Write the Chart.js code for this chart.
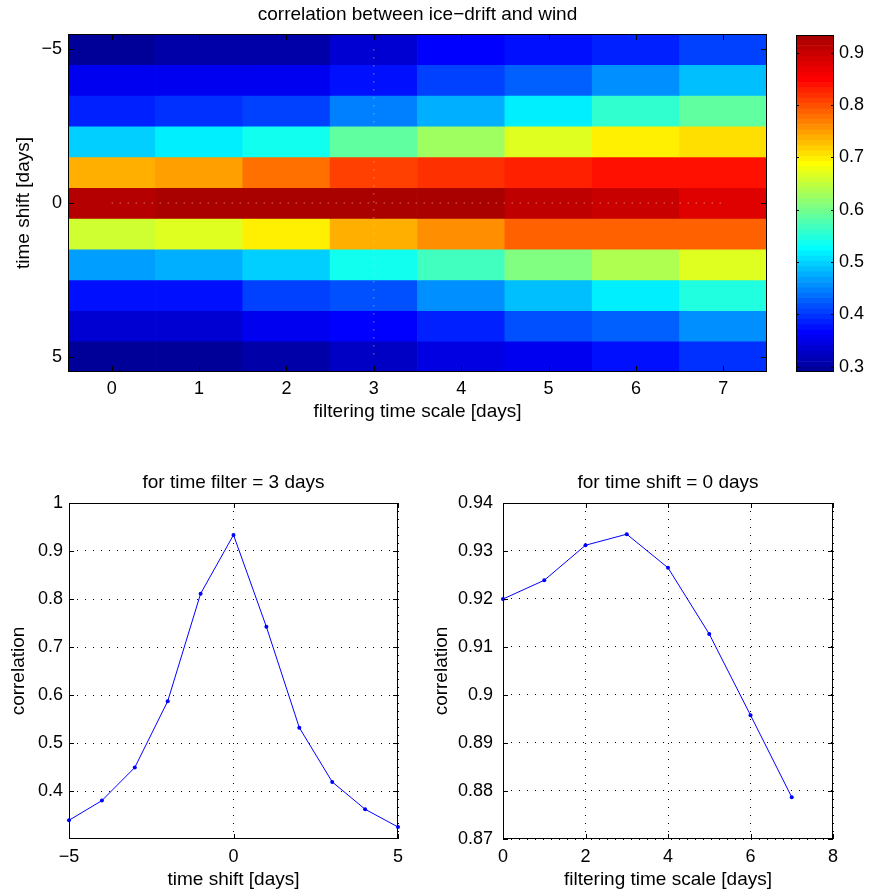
<!DOCTYPE html>
<html>
<head>
<meta charset="utf-8">
<title>correlation between ice-drift and wind</title>
<script src="https://cdn.jsdelivr.net/npm/chart.js@4.4.1/dist/chart.umd.min.js"></script>
<style>
  body { margin: 0; background: #fff; }
  #page { position: relative; width: 873px; height: 896px; overflow: hidden; }
  canvas { position: absolute; }
</style>
</head>
<body>
<div id="page">
  <canvas id="heatChart" width="780" height="430" style="left:0;top:0"></canvas>
  <canvas id="barChart" width="93" height="430" style="left:780px;top:0"></canvas>
  <canvas id="shiftChart" width="440" height="456" style="left:0;top:440px"></canvas>
  <canvas id="filterChart" width="453" height="456" style="left:420px;top:440px"></canvas>
</div>
<script>
// values
const filterDays = [0, 1, 2, 3, 4, 5, 6, 7]
const timeShift = [-5, -4, -3, -2, -1, 0, 1, 2, 3, 4, 5]

// one row per time shift, one value per filtering time scale
const corrByShift = [
  [0.296, 0.302, 0.310, 0.339, 0.365, 0.378, 0.390, 0.410],
  [0.352, 0.352, 0.358, 0.380, 0.405, 0.428, 0.452, 0.483],
  [0.390, 0.400, 0.410, 0.449, 0.480, 0.512, 0.553, 0.585],
  [0.500, 0.515, 0.541, 0.587, 0.625, 0.666, 0.693, 0.708],
  [0.733, 0.746, 0.773, 0.811, 0.822, 0.832, 0.834, 0.835],
  [0.9200, 0.9239, 0.9312, 0.9335, 0.9265, 0.9127, 0.8958, 0.8787],
  [0.655, 0.664, 0.694, 0.742, 0.759, 0.783, 0.785, 0.786],
  [0.462, 0.476, 0.500, 0.532, 0.568, 0.611, 0.638, 0.664],
  [0.378, 0.380, 0.402, 0.419, 0.455, 0.484, 0.515, 0.548],
  [0.340, 0.340, 0.352, 0.362, 0.385, 0.412, 0.428, 0.458],
  [0.290, 0.293, 0.302, 0.325, 0.342, 0.358, 0.380, 0.395]
]

const pickedFilter = 3
const pickedShift = 0

// tick labels
const heatYTicks = [-5, 0, 5]
const barTicks = [0.3, 0.4, 0.5, 0.6, 0.7, 0.8, 0.9]
const shiftXTicks = [-5, 0, 5]
const shiftYTicks = [0.4, 0.5, 0.6, 0.7, 0.8, 0.9, 1]
const filterXTicks = [0, 2, 4, 6, 8]
const filterYTicks = [0.87, 0.88, 0.89, 0.9, 0.91, 0.92, 0.93, 0.94]

Chart.defaults.font.family = '"Liberation Sans", Arial, sans-serif'
Chart.defaults.color = '#000'
Chart.defaults.animation = false

// jet-like 64 colour map, i = 0..63 (dark ends a bit lighter, as in the picture)
function jet(i) {
  const r = i < 24 ? 0 : i < 40 ? (i - 23) / 16 : i < 56 ? 1 : 1 - (i - 55) * 0.042
  const g = i < 8 ? 0 : i < 24 ? (i - 7) / 16 : i < 40 ? 1 : i < 55 ? (55 - i) / 16 : 0
  const b = i < 8 ? 0.6 + i * 0.4 / 7 : i < 24 ? 1 : i < 39 ? (39 - i) / 16 : 0
  return `rgb(${Math.round(r * 255)},${Math.round(g * 255)},${Math.round(b * 255)})`
}

const allValues = corrByShift.flat()
const cmin = Math.min(...allValues)
const cmax = Math.max(...allValues)
const colorIndex = v => Math.max(0, Math.min(63, Math.floor((v - cmin) / (cmax - cmin) * 64)))

const minus = v => (v < 0 ? '\u2212' + Math.abs(v) : String(v))
const fixTicks = list => scale => { scale.ticks = list.map(v => ({ value: v })) }

// box around the plot area with matlab style inward ticks
const boxTicks = {
  id: 'boxTicks',
  afterDatasetsDraw(chart, args, opts) {
    const { ctx, chartArea: a, scales } = chart
    const len = opts.len || 5
    ctx.save()
    ctx.strokeStyle = '#000'
    ctx.lineWidth = 1
    for (const id of ['x', 'y']) {
      const s = scales[id]
      if (!s || !s.options.display) continue
      s.ticks.forEach((t, i) => {
        const p = Math.round(s.getPixelForTick(i)) + 0.5
        ctx.beginPath()
        if (s.isHorizontal()) {
          ctx.moveTo(p, a.bottom); ctx.lineTo(p, a.bottom - len)
          ctx.moveTo(p, a.top); ctx.lineTo(p, a.top + len)
        } else {
          ctx.moveTo(a.left, p); ctx.lineTo(a.left + len, p)
          ctx.moveTo(a.right, p); ctx.lineTo(a.right - len, p)
        }
        ctx.stroke()
      })
    }
    ctx.strokeRect(Math.round(a.left) + 0.5, Math.round(a.top) + 0.5,
      Math.round(a.width) - 1, Math.round(a.height) - 1)
    ctx.restore()
  }
}

const titleFont = { size: 19, weight: 'normal' }
const tickFont = { size: 18 }

// HEATMAP
const heatBars = timeShift.map((s, r) => ({
  type: 'bar',
  data: filterDays.map(() => [s - 0.5, s + 0.5]),
  backgroundColor: corrByShift[r].map(v => jet(colorIndex(v))),
  borderWidth: 0,
  barPercentage: 1,
  categoryPercentage: 1,
  grouped: false,
  order: 1
}))

const guideStyle = {
  type: 'line',
  borderColor: 'rgba(240,220,140,0.8)',
  borderWidth: 1,
  borderDash: [1, 7],
  pointRadius: 0,
  order: 0
}

new Chart(document.getElementById('heatChart'), {
  type: 'bar',
  data: {
    labels: filterDays,
    datasets: [
      { ...guideStyle, data: [{ x: pickedFilter, y: timeShift[0] }, { x: pickedFilter, y: timeShift[timeShift.length - 1] }] },
      { ...guideStyle, data: [{ x: filterDays[0], y: pickedShift }, { x: filterDays[filterDays.length - 1], y: pickedShift }] },
      ...heatBars
    ]
  },
  options: {
    responsive: false,
    layout: { padding: { left: 0, right: 13, top: 0, bottom: 0 } },
    plugins: {
      legend: { display: false },
      tooltip: { enabled: false },
      title: { display: true, fullSize: false, text: 'correlation between ice\u2212drift and wind', font: titleFont, padding: { top: 3, bottom: 8.2 } },
      boxTicks: { len: 6 }
    },
    scales: {
      x: {
        type: 'category',
        offset: true,
        grid: { display: false, drawTicks: false },
        border: { display: false },
        ticks: { font: tickFont, padding: 6, autoSkip: false, maxRotation: 0 },
        title: { display: true, text: 'filtering time scale [days]', font: titleFont, padding: { top: 0, bottom: 6.6 } },
        afterFit: s => { s.height = 58 }
      },
      y: {
        type: 'linear',
        min: timeShift[0] - 0.5,
        max: timeShift[timeShift.length - 1] + 0.5,
        reverse: true,
        grid: { display: false, drawTicks: false },
        border: { display: false },
        afterBuildTicks: fixTicks(heatYTicks),
        ticks: { font: tickFont, padding: 6, callback: v => minus(v) },
        title: { display: true, text: 'time shift [days]', font: titleFont, padding: { top: 12, bottom: 0 } },
        afterFit: s => { s.width = 68 }
      }
    }
  },
  plugins: [boxTicks]
})

// COLORBAR
const levelStep = (cmax - cmin) / 64
const barSegments = [...Array(64).keys()].map(i => ({
  data: [[cmin + i * levelStep, cmin + (i + 1) * levelStep]],
  backgroundColor: jet(i),
  borderWidth: 0,
  barPercentage: 1,
  categoryPercentage: 1,
  grouped: false
}))

new Chart(document.getElementById('barChart'), {
  type: 'bar',
  data: { labels: [''], datasets: barSegments },
  options: {
    responsive: false,
    layout: { padding: { left: 16, right: 0, top: 35, bottom: 58 } },
    plugins: {
      legend: { display: false },
      tooltip: { enabled: false },
      boxTicks: { len: 3 }
    },
    scales: {
      x: { display: false },
      y: {
        position: 'right',
        min: cmin,
        max: cmax,
        grid: { display: false, drawTicks: false },
        border: { display: false },
        afterBuildTicks: fixTicks(barTicks),
        ticks: { font: tickFont, padding: 5, callback: v => String(v) },
        afterFit: s => { s.width = 39 }
      }
    }
  },
  plugins: [boxTicks]
})

// LINE PLOTS
function lineChart(id, opt) {
  return new Chart(document.getElementById(id), {
    type: 'line',
    data: {
      datasets: [{
        data: opt.points,
        borderColor: '#0000ff',
        backgroundColor: '#0000ff',
        borderWidth: 1,
        pointRadius: 2,
        pointBorderWidth: 0,
        clip: 4
      }]
    },
    options: {
      responsive: false,
      layout: { padding: { left: 0, right: opt.right, top: 0, bottom: 0 } },
      plugins: {
        legend: { display: false },
        tooltip: { enabled: false },
        title: { display: true, fullSize: false, text: opt.title, font: titleFont, padding: { top: 31.3, bottom: 8.9 } },
        boxTicks: { len: 5 }
      },
      scales: {
        x: {
          type: 'linear',
          min: opt.xTicks[0],
          max: opt.xTicks[opt.xTicks.length - 1],
          grid: { color: '#000', lineWidth: 1, drawTicks: false },
          border: { display: false, dash: [1, 7] },
          afterBuildTicks: fixTicks(opt.xTicks),
          ticks: { font: tickFont, padding: 7, callback: v => minus(v) },
          title: { display: true, text: opt.xLabel, font: titleFont, padding: { top: 0, bottom: 4.6 } },
          afterFit: s => { s.height = 57 }
        },
        y: {
          type: 'linear',
          min: opt.yMin,
          max: opt.yTicks[opt.yTicks.length - 1],
          grid: { color: '#000', lineWidth: 1, drawTicks: false },
          border: { display: false, dash: [1, 7] },
          afterBuildTicks: fixTicks(opt.yTicks),
          ticks: { font: tickFont, padding: opt.yPad, callback: v => String(+v.toFixed(2)) },
          title: { display: true, text: 'correlation', font: titleFont, padding: { top: opt.yTitlePad, bottom: 0 } },
          afterFit: s => { s.width = opt.yWidth }
        }
      }
    },
    plugins: [boxTicks]
  })
}

const filterCol = filterDays.indexOf(pickedFilter)
const shiftRow = timeShift.indexOf(pickedShift)

lineChart('shiftChart', {
  points: timeShift.map((s, r) => ({ x: s, y: corrByShift[r][filterCol] })),
  title: 'for time filter = ' + pickedFilter + ' days',
  xLabel: 'time shift [days]',
  xTicks: shiftXTicks,
  yTicks: shiftYTicks,
  yMin: 0.3,
  yWidth: 69,
  yPad: 6,
  yTitlePad: 7,
  right: 42
})

lineChart('filterChart', {
  points: filterDays.map((f, c) => ({ x: f, y: corrByShift[shiftRow][c] })),
  title: 'for time shift = ' + pickedShift + ' days',
  xLabel: 'filtering time scale [days]',
  xTicks: filterXTicks,
  yTicks: filterYTicks,
  yMin: filterYTicks[0],
  yWidth: 83,
  yPad: 10,
  yTitlePad: 10,
  right: 40
})
</script>
</body>
</html>
